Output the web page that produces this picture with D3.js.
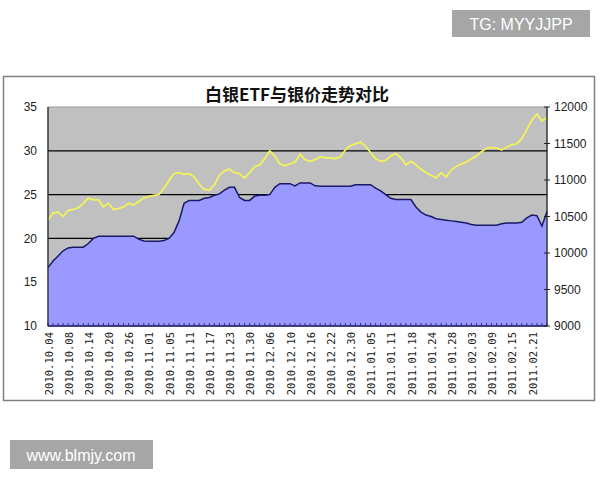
<!DOCTYPE html>
<html>
<head>
<meta charset="utf-8">
<script src="https://cdn.jsdelivr.net/npm/d3@7"></script>
<style>
  body{margin:0;background:#fff;}
  svg{display:block;}
</style>
</head>
<body>
<div id="chart"></div>
<script>
// silver price (left axis) and ETF holdings (right axis), one value per trading day
const price = [
  22.1, 22.9, 23.0, 22.5, 23.2, 23.3, 23.5, 24.0, 24.6, 24.4,
  24.4, 23.6, 24.0, 23.3, 23.4, 23.6, 24.0, 23.8, 24.2, 24.6,
  24.8, 24.9, 25.0, 25.7, 26.6, 27.4, 27.5, 27.3, 27.4, 27.0,
  26.2, 25.6, 25.5, 26.1, 27.2, 27.7, 27.9, 27.5, 27.4, 26.9,
  27.5, 28.2, 28.4, 29.1, 30.0, 29.4, 28.5, 28.3, 28.5, 28.7,
  29.6, 29.0, 28.8, 29.0, 29.3, 29.2, 29.2, 29.1, 29.3, 30.1,
  30.6, 30.8, 31.0, 30.5, 29.8, 29.1, 28.8, 28.9, 29.4, 29.7,
  29.2, 28.4, 28.8, 28.4, 27.9, 27.5, 27.2, 26.9, 27.5, 27.0,
  27.8, 28.2, 28.5, 28.7, 29.1, 29.4, 29.9, 30.3, 30.4, 30.3,
  30.1, 30.4, 30.7, 30.8, 31.4, 32.4, 33.5, 34.2, 33.4, 33.8
];
const holdings = [
  9800, 9890, 9960, 10030, 10070, 10080, 10080, 10080, 10130, 10200,
  10230, 10230, 10230, 10230, 10230, 10230, 10230, 10230, 10190, 10165,
  10160, 10160, 10160, 10170, 10200, 10280, 10440, 10680, 10720, 10720,
  10720, 10750, 10760, 10790, 10810, 10860, 10900, 10900, 10760, 10720,
  10720, 10780, 10790, 10790, 10800, 10900, 10950, 10950, 10950, 10920,
  10960, 10960, 10960, 10920, 10915, 10915, 10915, 10915, 10915, 10915,
  10915, 10935, 10935, 10935, 10935, 10890, 10850, 10800, 10750, 10733,
  10733, 10733, 10733, 10630, 10560, 10520, 10500, 10470, 10460, 10450,
  10440, 10430, 10420, 10410, 10390, 10380, 10380, 10380, 10380, 10380,
  10400, 10410, 10410, 10410, 10420, 10480, 10520, 10510, 10370, 10570
];
// one date label every 4 trading days
const dateLabels = [
  "2010.10.04","2010.10.08","2010.10.14","2010.10.20","2010.10.26",
  "2010.11.01","2010.11.05","2010.11.11","2010.11.17","2010.11.23",
  "2010.11.30","2010.12.06","2010.12.10","2010.12.16","2010.12.22",
  "2010.12.30","2011.01.05","2011.01.11","2011.01.18","2011.01.24",
  "2011.01.28","2011.02.03","2011.02.09","2011.02.15","2011.02.21"
];
const labelStep = 4;
const leftTicks  = [10, 15, 20, 25, 30, 35];
const rightTicks = [9000, 9500, 10000, 10500, 11000, 11500, 12000];
const gridValues = [20, 25, 30];
const title = "白银ETF与银价走势对比";

const W = 600, H = 480;
const plot = {left: 48, right: 547, top: 107, bottom: 326};

const svg = d3.select("#chart").append("svg")
    .attr("width", W)
    .attr("height", H);

// watermark boxes
svg.append("rect").attr("x", 452).attr("y", 10).attr("width", 138).attr("height", 27).attr("fill", "#a6a6a6");
svg.append("text").attr("x", 521).attr("y", 24).attr("dy", "0.35em")
    .attr("text-anchor", "middle").attr("fill", "#fff")
    .style("font", "16px 'Liberation Sans', Arial, sans-serif")
    .text("TG: MYYJJPP");
svg.append("rect").attr("x", 10).attr("y", 440).attr("width", 143).attr("height", 29).attr("fill", "#a6a6a6");
svg.append("text").attr("x", 81).attr("y", 455).attr("dy", "0.35em")
    .attr("text-anchor", "middle").attr("fill", "#fff")
    .style("font", "16px 'Liberation Sans', Arial, sans-serif")
    .text("www.blmjy.com");

// chart frame
svg.append("defs").append("clipPath").attr("id", "frame")
    .append("rect").attr("x", 3).attr("y", 76).attr("width", 592).attr("height", 325);
svg.append("rect")
    .attr("x", 3.5).attr("y", 76.5).attr("width", 591).attr("height", 324)
    .attr("fill", "#fff").attr("stroke", "#808080").attr("stroke-width", 1.5);

const g = svg.append("g").attr("clip-path", "url(#frame)");

const x = d3.scaleLinear()
    .domain([0, price.length - 1])
    .range([plot.left, plot.right]);
const yLeft = d3.scaleLinear()
    .domain([10, 35])
    .range([plot.bottom, plot.top]);
const yRight = d3.scaleLinear()
    .domain([9000, 12000])
    .range([plot.bottom, plot.top]);

// plot background
g.append("rect")
    .attr("x", plot.left).attr("y", plot.top)
    .attr("width", plot.right - plot.left).attr("height", plot.bottom - plot.top)
    .attr("fill", "#c0c0c0").attr("stroke", "#9a9a9a");

// gridlines
g.append("g").selectAll("line").data(gridValues).join("line")
    .attr("x1", plot.left).attr("x2", plot.right)
    .attr("y1", d => yLeft(d)).attr("y2", d => yLeft(d))
    .attr("stroke", "#000").attr("stroke-width", 1.2);

// ETF holdings area
const area = d3.area()
    .x((d, i) => x(i))
    .y0(plot.bottom)
    .y1(d => yRight(d));
g.append("path").datum(holdings)
    .attr("d", area)
    .attr("fill", "#9999ff");
g.append("path").datum(holdings)
    .attr("d", d3.line().x((d, i) => x(i)).y(d => yRight(d)))
    .attr("fill", "none").attr("stroke", "#1a1a66").attr("stroke-width", 1.5);

// silver price line
g.append("path").datum(price)
    .attr("d", d3.line().x((d, i) => x(i)).y(d => yLeft(d)))
    .attr("fill", "none").attr("stroke", "#f2f25a").attr("stroke-width", 1.8)
    .attr("stroke-linejoin", "round");

// bottom axis: small tick per day, label every labelStep days
g.append("line")
    .attr("x1", plot.left).attr("x2", plot.right)
    .attr("y1", plot.bottom).attr("y2", plot.bottom)
    .attr("stroke", "#1a1a66").attr("stroke-width", 1.5);
g.append("g").selectAll("line").data(d3.range(price.length)).join("line")
    .attr("x1", d => x(d)).attr("x2", d => x(d))
    .attr("y1", plot.bottom).attr("y2", plot.bottom - 3)
    .attr("stroke", "#1a1a66").attr("stroke-width", 0.8);
g.append("g").selectAll("text").data(dateLabels).join("text")
    .attr("transform", (d, i) => "translate(" + (x(i * labelStep) + 1) + "," + (plot.bottom + 6) + ") rotate(-90)")
    .attr("dy", "0.35em")
    .attr("text-anchor", "end")
    .attr("fill", "#222")
    .style("font", "10.5px 'DejaVu Sans Mono', monospace")
    .text(d => d);

// left axis
g.append("line")
    .attr("x1", plot.left).attr("x2", plot.left)
    .attr("y1", plot.top).attr("y2", plot.bottom)
    .attr("stroke", "#222").attr("stroke-width", 1.2);
g.append("g").selectAll("text").data(leftTicks).join("text")
    .attr("x", plot.left - 11).attr("y", d => yLeft(d))
    .attr("dy", "0.35em").attr("text-anchor", "end")
    .attr("fill", "#222")
    .style("font", "12px 'Liberation Sans', Arial, sans-serif")
    .text(d => d);

// right axis
g.append("line")
    .attr("x1", plot.right).attr("x2", plot.right)
    .attr("y1", plot.top).attr("y2", plot.bottom)
    .attr("stroke", "#222").attr("stroke-width", 1.2);
g.append("g").selectAll("line").data(rightTicks).join("line")
    .attr("x1", plot.right - 3).attr("x2", plot.right + 3)
    .attr("y1", d => yRight(d)).attr("y2", d => yRight(d))
    .attr("stroke", "#222");
g.append("g").selectAll("text").data(rightTicks).join("text")
    .attr("x", plot.right + 7).attr("y", d => yRight(d))
    .attr("dy", "0.35em").attr("text-anchor", "start")
    .attr("fill", "#222")
    .style("font", "12px 'Liberation Sans', Arial, sans-serif")
    .text(d => d);

// title
g.append("text")
    .attr("x", 297).attr("y", 95).attr("dy", "0.35em")
    .attr("text-anchor", "middle")
    .attr("fill", "#111")
    .style("font", "bold 17px 'Noto Sans CJK SC', sans-serif")
    .text(title);
</script>
</body>
</html>
